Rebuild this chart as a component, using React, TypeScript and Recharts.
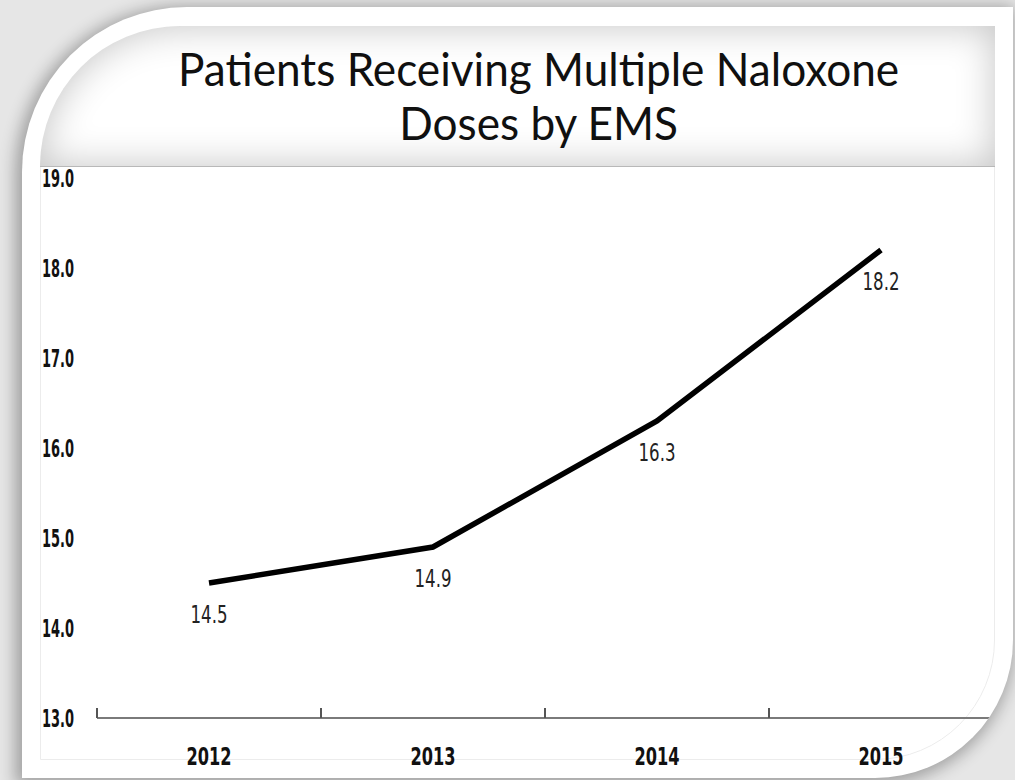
import * as React from "react";
import { LineChart, Line, XAxis, YAxis, LabelList } from "recharts";

const years = ["2012", "2013", "2014", "2015"];
const patientShares = [14.5, 14.9, 16.3, 18.2];
const yTickValues = [13, 14, 15, 16, 17, 18, 19];
const titleLines = ["Patients Receiving Multiple Naloxone", "Doses by EMS"];

const data = years.map((year, i) => ({ year, value: patientShares[i] }));

const W = 1015;
const H = 780;
const margin = { top: 178, right: 22, bottom: 22, left: 0 };
const Y_AXIS_W = 97;
const X_AXIS_H = 40;
const plotW = W - margin.left - margin.right - Y_AXIS_W;
const halfBand = plotW / years.length / 2;

// frame offset inside the page
const FX = 22;
const FY = 7;

const narrow = "'Liberation Sans Narrow', 'Arial Narrow', 'DejaVu Sans Condensed', sans-serif";

const XTick = (props: any) => {
  const { x, y, payload } = props;
  return (
    <g>
      <line x1={x - halfBand} x2={x - halfBand} y1={y} y2={y - 10} stroke="#555" strokeWidth={2} />
      <text
        x={x}
        y={y + 47}
        textAnchor="middle"
        fontFamily={narrow}
        fontWeight="bold"
        fontSize={25}
        fill="#111"
        textLength={45}
        lengthAdjust="spacingAndGlyphs"
      >
        {payload.value}
      </text>
    </g>
  );
};

const YTick = (props: any) => {
  const { x, y, payload } = props;
  return (
    <text
      x={x}
      y={y}
      dy="0.36em"
      textAnchor="end"
      fontFamily={narrow}
      fontWeight="bold"
      fontSize={25}
      fill="#111"
      textLength={32}
      lengthAdjust="spacingAndGlyphs"
    >
      {Number(payload.value).toFixed(1)}
    </text>
  );
};

const PointLabel = (props: any) => {
  const { x, y, value } = props;
  return (
    <text
      x={x}
      y={y + 40}
      textAnchor="middle"
      fontFamily={narrow}
      fontSize={25}
      fill="#222"
      textLength={37}
      lengthAdjust="spacingAndGlyphs"
    >
      {Number(value).toFixed(1)}
    </text>
  );
};

export default function App() {
  return (
    <div style={{ position: "absolute", left: 0, top: 0, width: W, height: H, background: "#e6e6e6", overflow: "hidden" }}>
      <div
        style={{
          position: "absolute",
          left: FX,
          top: FY,
          width: 1013 - FX,
          height: 778 - FY,
          background: "#fff",
          borderTopLeftRadius: 165,
          borderBottomRightRadius: 138,
          boxShadow: "-3px 3px 16px 4px rgba(0,0,0,0.3)",
          overflow: "hidden",
        }}
      >
        {/* inner panel */}
        <div
          style={{
            position: "absolute",
            left: 40 - FX,
            top: 26 - FY,
            width: 995 - 40,
            height: 760 - 26,
            border: "1px solid #ececec",
            boxSizing: "border-box",
            borderTopLeftRadius: 145,
            borderBottomRightRadius: 120,
          }}
        />
        {/* title box */}
        <div
          style={{
            position: "absolute",
            left: 40 - FX,
            top: 26 - FY,
            width: 995 - 40,
            height: 167 - 26,
            borderTopLeftRadius: 145,
            background: "#fff",
            boxShadow: "inset 0 0 38px rgba(0,0,0,0.24)",
            borderBottom: "1px solid #b8b8b8",
            boxSizing: "border-box",
          }}
        >
          <div
            style={{
              position: "absolute",
              left: 0,
              top: 16,
              width: "100%",
              paddingLeft: 44,
              boxSizing: "border-box",
              textAlign: "center",
              fontFamily: "Lato, 'Open Sans', sans-serif",
              fontSize: 46,
              lineHeight: "54px",
              color: "#101010",
              transform: "scaleX(0.96)",
            }}
          >
            {titleLines.map((t) => (
              <div key={t}>{t}</div>
            ))}
          </div>
        </div>
        <div style={{ position: "absolute", left: -FX, top: -FY }}>
          <LineChart width={W} height={H} data={data} margin={margin}>
            <XAxis
              dataKey="year"
              height={X_AXIS_H}
              padding={{ left: halfBand, right: halfBand }}
              axisLine={{ stroke: "#7a7a7a", strokeWidth: 2 }}
              tickLine={false}
              tickSize={0}
              tickMargin={0}
              tick={<XTick />}
              interval={0}
            />
            <YAxis
              width={Y_AXIS_W}
              domain={[13, 19]}
              ticks={yTickValues}
              axisLine={false}
              tickLine={false}
              tickSize={0}
              tickMargin={23}
              tick={<YTick />}
              interval={0}
            />
            <Line
              type="linear"
              dataKey="value"
              stroke="#000"
              strokeWidth={5.5}
              dot={false}
              isAnimationActive={false}
            >
              <LabelList dataKey="value" content={<PointLabel />} />
            </Line>
          </LineChart>
        </div>
      </div>
    </div>
  );
}
